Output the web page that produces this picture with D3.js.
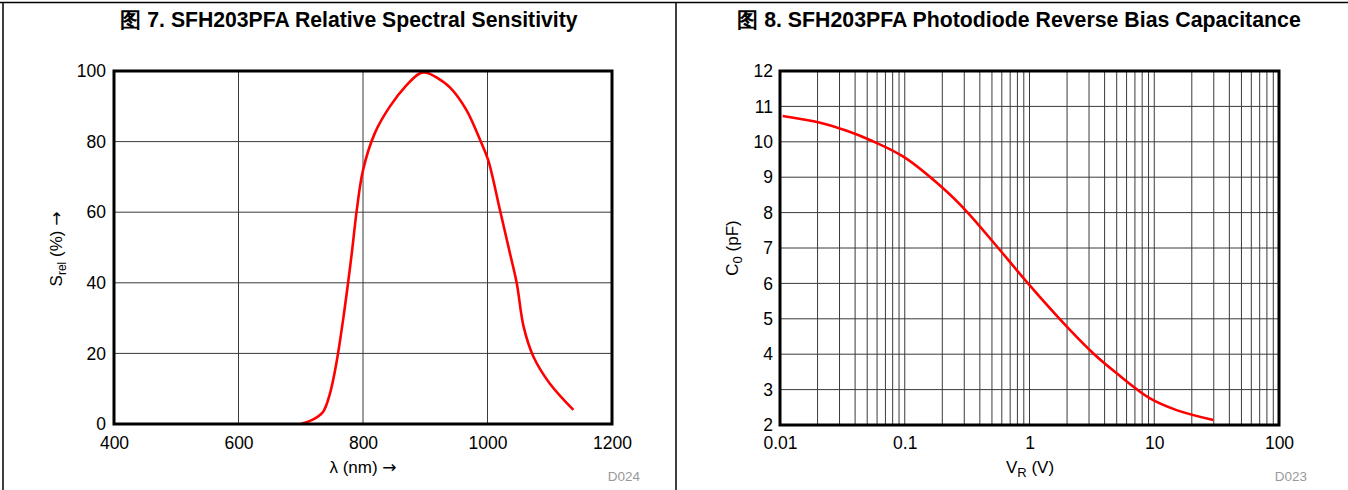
<!DOCTYPE html>
<html><head><meta charset="utf-8">
<script src="https://cdn.jsdelivr.net/npm/d3@7/dist/d3.min.js"></script>
<style>
body{margin:0;background:#fff;}
svg{display:block;font-family:"Liberation Sans",Arial,sans-serif;}
</style></head>
<body>
<svg id="c" width="1348" height="490"></svg>
<script>
// ---- Figure 7 data ----
const title7 = "图 7. SFH203PFA Relative Spectral Sensitivity";
const wavelength = [700,720,736,747,758,768,776,782,790,800,819,843,870,891,902,918,940,966,988,1001,1020,1036,1047,1058,1074,1100,1138];
const sensitivity = [0,1.3,3.5,8.7,18,29.5,40,48.4,60.6,71.9,82.4,89.9,96,99.3,99.5,98.2,95.3,89,80.5,74.8,60.6,48.4,39.9,27.6,19,11.5,4];
const xTicks7 = [400,600,800,1000,1200];
const yTicks7 = [0,20,40,60,80,100];

// ---- Figure 8 data ----
const title8 = "图 8. SFH203PFA Photodiode Reverse Bias Capacitance";
const voltage = [0.0105,0.021,0.0343,0.0527,0.0975,0.204,0.314,0.546,1.0,2.0,3.25,5.0,9.25,15.1,29.7];
const capacitance = [10.73,10.54,10.31,10.05,9.58,8.68,8.03,7.05,5.95,4.77,4.02,3.46,2.75,2.42,2.14];
const xTicks8 = [0.01,0.1,1,10,100];
const xTickLabels8 = ["0.01","0.1","1","10","100"];
const yTicks8 = [2,3,4,5,6,7,8,9,10,11,12];

const svg = d3.select("#c");
const FONT = "Liberation Sans, Arial, sans-serif";
const TICK = 17.5;
const LAB = 17;

// panel frame lines
svg.append("line").attr("x1",0).attr("x2",1348).attr("y1",2.5).attr("y2",2.5).attr("stroke","#000").attr("stroke-width",1.5);
svg.append("line").attr("x1",3).attr("x2",3).attr("y1",2).attr("y2",490).attr("stroke","#000").attr("stroke-width",1.5);
svg.append("line").attr("x1",676).attr("x2",676).attr("y1",2).attr("y2",490).attr("stroke","#000").attr("stroke-width",1.5);

function title(x, t, s){
  svg.append("text").attr("x",x).attr("y",27).attr("text-anchor","middle")
    .attr("font-size",s).attr("font-weight","bold").text(t);
}
title(349, title7, 21.2);
title(1019, title8, 21.3);

const gridColor = "#3a3a3a";

function arrow(sel){
  sel.append("tspan").attr("font-family","DejaVu Sans, sans-serif").text("→");
}

// ---- Chart 7 ----
{
  const L=114,R=612,T=71,B=424;
  const x = d3.scaleLinear().domain([400,1200]).range([L,R]);
  const y = d3.scaleLinear().domain([0,100]).range([B,T]);
  const g = svg.append("g");
  g.selectAll(".vg").data(xTicks7.slice(1,-1)).join("line")
    .attr("x1",d=>x(d)).attr("x2",d=>x(d)).attr("y1",T).attr("y2",B).attr("stroke",gridColor).attr("stroke-width",1);
  g.selectAll(".hg").data(yTicks7.slice(1,-1)).join("line")
    .attr("x1",L).attr("x2",R).attr("y1",d=>y(d)).attr("y2",d=>y(d)).attr("stroke",gridColor).attr("stroke-width",1);
  const ax = g.append("g").attr("transform",`translate(0,${B})`)
    .call(d3.axisBottom(x).tickValues(xTicks7).tickSize(0).tickPadding(13).tickFormat(d3.format("d")));
  ax.select(".domain").remove();
  ax.selectAll("text").attr("font-size",TICK).attr("fill","#000").attr("font-family",FONT);
  const ay = g.append("g").attr("transform",`translate(${L},0)`)
    .call(d3.axisLeft(y).tickValues(yTicks7).tickSize(0).tickPadding(8));
  ay.select(".domain").remove();
  ay.selectAll("text").attr("font-size",TICK).attr("fill","#000").attr("font-family",FONT);
  const pts = wavelength.map((w,i)=>[w,sensitivity[i]]);
  g.append("path").datum(pts).attr("fill","none").attr("stroke","#ff0000").attr("stroke-width",2.6)
    .attr("stroke-linejoin","round")
    .attr("d",d3.line().x(d=>x(d[0])).y(d=>y(d[1])).curve(d3.curveCatmullRom));
  g.append("rect").attr("x",L).attr("y",T).attr("width",R-L).attr("height",B-T)
    .attr("fill","none").attr("stroke","#000").attr("stroke-width",3);
  const xl = g.append("text").attr("x",(L+R)/2).attr("y",473).attr("text-anchor","middle").attr("font-size",LAB);
  xl.append("tspan").text("λ (nm) ");
  arrow(xl);
  const yl = g.append("text").attr("transform",`translate(62,249) rotate(-90)`).attr("text-anchor","middle").attr("font-size",LAB);
  yl.append("tspan").text("S");
  yl.append("tspan").attr("font-size",12).attr("dy",4).text("rel");
  yl.append("tspan").attr("dy",-4).text(" (%) ");
  arrow(yl);
  g.append("text").attr("x",640).attr("y",481).attr("text-anchor","end").attr("font-size",13.5).attr("fill","#999").text("D024");
}

// ---- Chart 8 ----
{
  const L=780,R=1279,T=71,B=425;
  const x = d3.scaleLog().domain([0.01,100]).range([L,R]);
  const y = d3.scaleLinear().domain([2,12]).range([B,T]);
  const g = svg.append("g");
  const minor = [];
  for (let e=-2;e<2;e++) for (let m=1;m<10;m++){ const v=m*Math.pow(10,e); if(v>0.01*1.0001) minor.push(v); }
  g.selectAll(".vg").data(minor).join("line")
    .attr("x1",d=>x(d)).attr("x2",d=>x(d)).attr("y1",T).attr("y2",B).attr("stroke",gridColor).attr("stroke-width",1);
  g.selectAll(".hg").data(yTicks8.slice(1,-1)).join("line")
    .attr("x1",L).attr("x2",R).attr("y1",d=>y(d)).attr("y2",d=>y(d)).attr("stroke",gridColor).attr("stroke-width",1);
  const ax = g.append("g").attr("transform",`translate(0,${B})`)
    .call(d3.axisBottom(x).tickValues(xTicks8).tickSize(0).tickPadding(12).tickFormat((d,i)=>xTickLabels8[i]));
  ax.select(".domain").remove();
  ax.selectAll("text").attr("font-size",TICK).attr("fill","#000").attr("font-family",FONT);
  const ay = g.append("g").attr("transform",`translate(${L},0)`)
    .call(d3.axisLeft(y).tickValues(yTicks8).tickSize(0).tickPadding(7));
  ay.select(".domain").remove();
  ay.selectAll("text").attr("font-size",TICK).attr("fill","#000").attr("font-family",FONT);
  const pts = voltage.map((v,i)=>[v,capacitance[i]]);
  g.append("path").datum(pts).attr("fill","none").attr("stroke","#ff0000").attr("stroke-width",2.6)
    .attr("stroke-linejoin","round")
    .attr("d",d3.line().x(d=>x(d[0])).y(d=>y(d[1])).curve(d3.curveCatmullRom));
  g.append("rect").attr("x",L).attr("y",T).attr("width",R-L).attr("height",B-T)
    .attr("fill","none").attr("stroke","#000").attr("stroke-width",3);
  const xl = g.append("text").attr("x",1030).attr("y",473).attr("text-anchor","middle").attr("font-size",LAB);
  xl.append("tspan").text("V");
  xl.append("tspan").attr("font-size",13).attr("dy",4).text("R");
  xl.append("tspan").attr("dy",-4).text("  (V)");
  const yl = g.append("text").attr("transform",`translate(738,${(T+B)/2}) rotate(-90)`).attr("text-anchor","middle").attr("font-size",LAB);
  yl.append("tspan").text("C");
  yl.append("tspan").attr("font-size",13).attr("dy",4).text("0");
  yl.append("tspan").attr("dy",-4).text(" (pF)");
  g.append("text").attr("x",1307).attr("y",481).attr("text-anchor","end").attr("font-size",13.5).attr("fill","#999").text("D023");
}
</script>
</body></html>
